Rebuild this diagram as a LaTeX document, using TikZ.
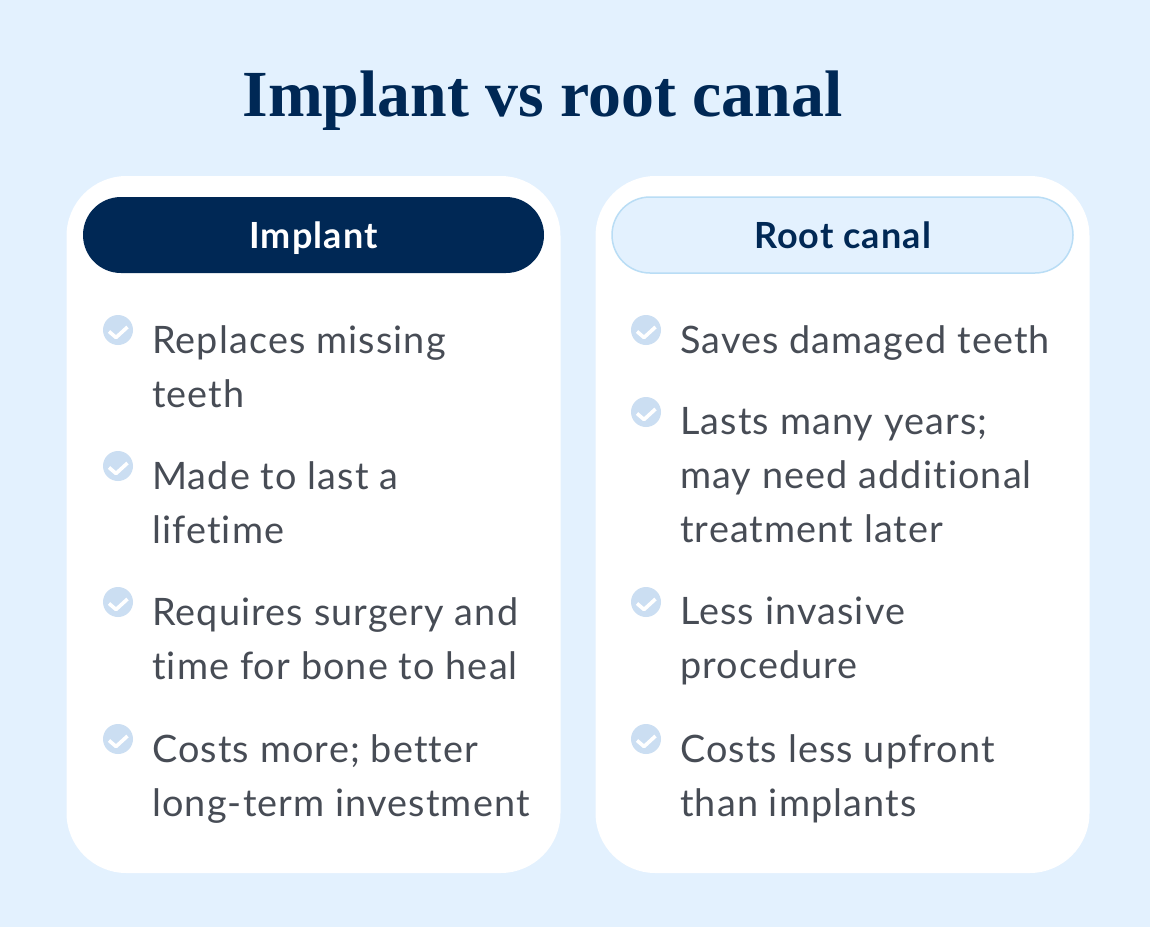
\documentclass[tikz,border=0pt]{standalone}
\usepackage{fontspec}
\setmainfont{Lato}[LetterSpace=3,Ligatures=CommonOff]
\newfontfamily\titlefont{Liberation Serif}
\usetikzlibrary{positioning}
\definecolor{paleblue}{HTML}{E3F1FE}
\definecolor{navy}{HTML}{002855}
\definecolor{slate}{HTML}{474C55}
\definecolor{tickblue}{HTML}{CBDEF2}
\definecolor{pillline}{HTML}{B9DDF5}
\tikzset{
  card/.style={fill=white,rounded corners=60pt,minimum width=494pt,minimum height=697pt,inner sep=0pt},
  pill/.style={rounded corners=38pt,minimum width=461pt,minimum height=76pt,inner sep=0pt,
    text height=26pt,text depth=0pt,font=\fontsize{36}{40}\selectfont\bfseries},
  item/.style={anchor=north west,inner sep=0pt,align=left,text=slate,
    font=\fontsize{37.8}{54}\selectfont},
  tick/.style={circle,fill=tickblue,minimum size=30pt,inner sep=0pt,path picture={
    \draw[white,line width=3.6pt,line join=round] ([shift={(-9pt,-1.5pt)}]path picture bounding box.center)
      -- ([shift={(-2pt,-7.5pt)}]path picture bounding box.center)
      -- ([shift={(9.5pt,3pt)}]path picture bounding box.center);}}
}
\begin{document}
\begin{tikzpicture}[x=1pt,y=-1pt]
  \fill[paleblue] (0,0) rectangle (1150,927);
  \useasboundingbox (0,0) rectangle (1150,927);
  \node[inner sep=0pt,text=navy,font=\fontsize{65.8}{70}\selectfont\titlefont\bfseries] (title) at (542.5,101) {Implant vs root canal};
  \node[card] (implantcard) at (313.5,524.5) {};
  \node[card] (rootcard) at (842.5,524.5) {};
  \node[pill,fill=navy,text=white] (implanthead) at (313.5,235) {Implant};
  \node[pill,fill=paleblue,draw=pillline,line width=1.5pt,text=navy] (roothead) at (842.5,235) {Root canal};
  % left column
  \node[tick] (a1) at (118,330) {};
  \node[item] (at1) at (152,325) {Replaces missing\\teeth};
  \node[tick] (a2) at (118,466) {};
  \node[item] (at2) at (152,461) {Made to last a\\lifetime};
  \node[tick] (a3) at (118,602) {};
  \node[item] (at3) at (152,597) {Requires surgery and\\time for bone to heal};
  \node[tick] (a4) at (118,739) {};
  \node[item] (at4) at (152,734) {Costs more; better\\long-term investment};
  % right column
  \node[tick] (b1) at (646,330) {};
  \node[item] (bt1) at (680,325) {Saves damaged teeth};
  \node[tick] (b2) at (646,412) {};
  \node[item] (bt2) at (680,407) {Lasts many years;\\may need additional\\treatment later};
  \node[tick] (b3) at (646,602) {};
  \node[item] (bt3) at (680,597) {Less invasive\\procedure};
  \node[tick] (b4) at (646,739) {};
  \node[item] (bt4) at (680,734) {Costs less upfront\\than implants};
\end{tikzpicture}
\end{document}
